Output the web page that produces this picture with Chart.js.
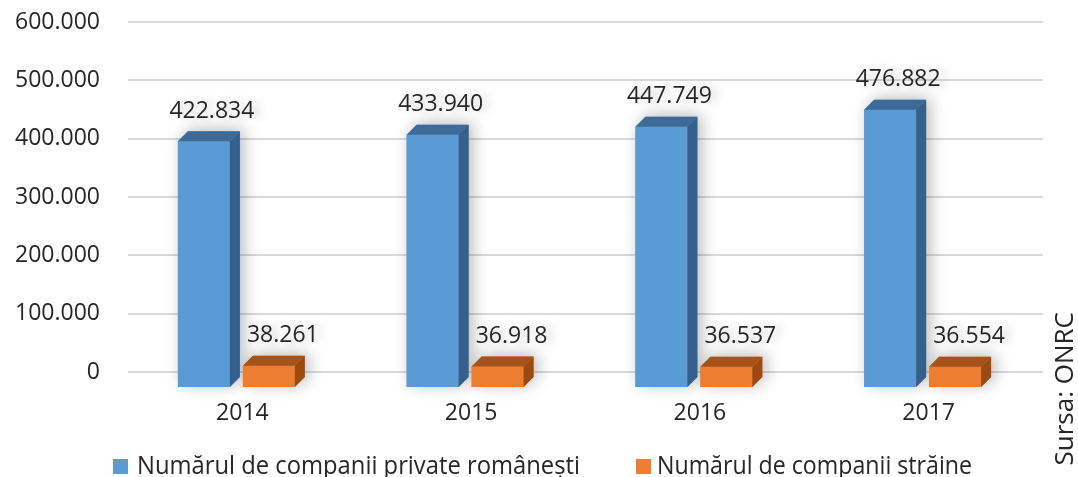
<!DOCTYPE html>
<html lang="ro">
<head>
  <meta charset="UTF-8">
  <title>Companii private</title>
  <script src="https://cdn.jsdelivr.net/npm/chart.js"></script>
  <style>
    body { margin: 0; background: #fff; }
    #chart { display: block; }
  </style>
</head>
<body>
  <canvas id="chart" width="1078" height="477"></canvas>

  <script>
    // Data
    const years = ['2014', '2015', '2016', '2017'];
    const romanianCompanies = [422834, 433940, 447749, 476882];
    const foreignCompanies = [38261, 36918, 36537, 36554];
    const yTicks = [0, 100000, 200000, 300000, 400000, 500000, 600000];
    const seriesNames = ['Numărul de companii private româneşti', 'Numărul de companii străine'];

    const FONT = '"Open Sans", "DejaVu Sans", sans-serif';
    const TEXT = '#262626';
    const frontCol = ['#5b9bd5', '#ed7d31'];
    const sideCol = ['#365f8b', '#9a4a12'];
    const topCol = ['#3e6a97', '#a5531a'];
    const shift = { x: -6, y: 16 };   // front face offset
    const depth = 10;                 // 3d depth

    function fmt(v) {
      return String(v).replace(/\B(?=(\d{3})+(?!\d))/g, '.');
    }

    function faces(el) {
      const l = el.x - el.width / 2, r = el.x + el.width / 2;
      return { l, r, t: el.y, b: el.base };
    }

    const bars3d = {
      id: 'bars3d',
      beforeDatasetsDraw(chart) {
        const ctx = chart.ctx;
        ctx.save();
        ctx.translate(shift.x, shift.y);
        // soft shadow behind each bar
        chart.data.datasets.forEach((ds, i) => {
          chart.getDatasetMeta(i).data.forEach(el => {
            const f = faces(el);
            ctx.save();
            ctx.shadowColor = 'rgba(0,0,0,0.28)';
            ctx.shadowBlur = 16;
            ctx.shadowOffsetX = 4;
            ctx.shadowOffsetY = -2;
            ctx.fillStyle = frontCol[i];
            ctx.beginPath();
            ctx.moveTo(f.l, f.b);
            ctx.lineTo(f.l, f.t);
            ctx.lineTo(f.l + depth, f.t - depth);
            ctx.lineTo(f.r + depth, f.t - depth);
            ctx.lineTo(f.r + depth, f.b - depth);
            ctx.lineTo(f.r, f.b);
            ctx.closePath();
            ctx.fill();
            ctx.restore();
          });
        });
      },
      afterDatasetsDraw(chart) {
        const ctx = chart.ctx;
        chart.data.datasets.forEach((ds, i) => {
          chart.getDatasetMeta(i).data.forEach(el => {
            const f = faces(el);
            ctx.fillStyle = sideCol[i];
            ctx.beginPath();
            ctx.moveTo(f.r, f.t);
            ctx.lineTo(f.r + depth, f.t - depth);
            ctx.lineTo(f.r + depth, f.b - depth);
            ctx.lineTo(f.r, f.b);
            ctx.closePath();
            ctx.fill();
            ctx.fillStyle = topCol[i];
            ctx.beginPath();
            ctx.moveTo(f.l, f.t);
            ctx.lineTo(f.l + depth, f.t - depth);
            ctx.lineTo(f.r + depth, f.t - depth);
            ctx.lineTo(f.r, f.t);
            ctx.closePath();
            ctx.fill();
          });
        });
        ctx.restore();

        // value labels
        ctx.save();
        ctx.font = '23px ' + FONT;
        ctx.textAlign = 'center';
        ctx.textBaseline = 'middle';
        ctx.fillStyle = TEXT;
        ctx.shadowColor = 'rgba(0,0,0,0.22)';
        ctx.shadowBlur = 10;
        ctx.shadowOffsetX = 6;
        const labelDx = [8, 14];
        chart.data.datasets.forEach((ds, i) => {
          chart.getDatasetMeta(i).data.forEach((el, j) => {
            ctx.fillText(fmt(ds.data[j]), el.x + shift.x + labelDx[i], el.y - 14);
          });
        });
        ctx.restore();
      },
      afterDraw(chart) {
        const ctx = chart.ctx;
        // legend
        ctx.save();
        ctx.font = '26px ' + FONT;
        ctx.textBaseline = 'alphabetic';
        const items = [
          { sq: 113, tx: 137, w: 443 },
          { sq: 636, tx: 657, w: 315 }
        ];
        items.forEach((it, i) => {
          ctx.fillStyle = frontCol[i];
          ctx.fillRect(it.sq, 459, 15, 15);
          ctx.fillStyle = TEXT;
          const m = ctx.measureText(seriesNames[i]).width;
          ctx.save();
          ctx.translate(it.tx, 474);
          ctx.scale(it.w / m, 1);
          ctx.fillText(seriesNames[i], 0, 0);
          ctx.restore();
        });
        // source note
        ctx.font = '26px ' + FONT;
        ctx.translate(1073, 312);
        ctx.rotate(-Math.PI / 2);
        ctx.textAlign = 'right';
        ctx.fillText('Sursa: ONRC', 0, 0);
        ctx.restore();
      }
    };

    new Chart(document.getElementById('chart'), {
      type: 'bar',
      data: {
        labels: years,
        datasets: [
          { label: seriesNames[0], data: romanianCompanies, backgroundColor: frontCol[0], clip: false },
          { label: seriesNames[1], data: foreignCompanies, backgroundColor: frontCol[1], clip: false }
        ]
      },
      options: {
        responsive: false,
        animation: false,
        categoryPercentage: 0.568,
        barPercentage: 0.8,
        layout: { padding: { left: 0, right: 35, top: 22, bottom: 0 } },
        plugins: {
          legend: { display: false },
          tooltip: { enabled: false }
        },
        scales: {
          x: {
            grid: { display: false, drawTicks: false },
            border: { display: false },
            ticks: { color: TEXT, font: { family: FONT, size: 23 }, padding: 28 },
            afterFit: s => { s.height = 105; }
          },
          y: {
            min: 0,
            max: 600000,
            afterBuildTicks: s => { s.ticks = yTicks.map(v => ({ value: v })); },
            grid: { color: '#d9d9d9', lineWidth: 2, drawTicks: false },
            border: { display: false },
            ticks: {
              color: TEXT,
              font: { family: FONT, size: 23 },
              padding: 28,
              callback: v => fmt(v)
            },
            afterFit: s => { s.width = 128; s.paddingTop = 0; s.paddingBottom = 0; }
          }
        }
      },
      plugins: [bars3d]
    });
  </script>
</body>
</html>
